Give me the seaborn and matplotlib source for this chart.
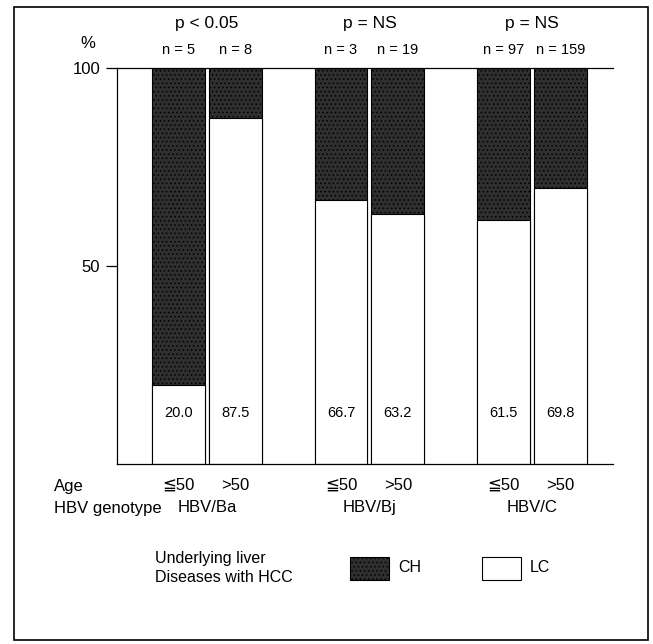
import numpy as np
import pandas as pd
import seaborn as sns
import matplotlib
matplotlib.use("Agg")
import matplotlib.pyplot as plt
from matplotlib.patches import Rectangle

# ---- data ----
genotypes = ["HBV/Ba", "HBV/Bj", "HBV/C"]
ages = ["≦50", ">50"]
lc_values = [20.0, 87.5, 66.7, 63.2, 61.5, 69.8]   # % LC, per genotype x age
ch_values = [80.0, 12.5, 33.3, 36.8, 38.5, 30.2]   # % CH
n_values = [5, 8, 3, 19, 97, 159]
p_labels = ["p < 0.05", "p = NS", "p = NS"]

rows = []
i = 0
for g in genotypes:
    for a in ages:
        rows.append({"genotype": g, "age": a, "LC": lc_values[i],
                     "total": lc_values[i] + ch_values[i], "n": n_values[i]})
        i += 1
df = pd.DataFrame(rows)

sns.set_theme(style="white")
plt.rcParams["font.family"] = ["Liberation Sans", "DejaVu Sans"]
plt.rcParams["text.color"] = "black"
plt.rcParams["ytick.color"] = "black"
plt.rcParams["ytick.labelcolor"] = "black"
plt.rcParams["hatch.color"] = "#8a8a8a"
plt.rcParams["hatch.linewidth"] = 0.6

W, H = 653, 644
fig = plt.figure(figsize=(W / 100, H / 100), dpi=100)
fig.patch.set_facecolor("white")

def fx(px):
    return px / W

def fy(py):
    return 1 - py / H

ax = fig.add_axes([fx(117), fy(464), fx(613) - fx(117), fy(68) - fy(464)])

dark = "#2f2f2f"
sns.barplot(data=df, x="genotype", y="total", hue="age", hue_order=ages,
            order=genotypes, palette=[dark, dark], width=0.70, gap=0.07,
            edgecolor="black", linewidth=0.8, legend=False, ax=ax, errorbar=None)
n_dark = len(ax.patches)
for p in ax.patches:
    p.set_hatch("....")
sns.barplot(data=df, x="genotype", y="LC", hue="age", hue_order=ages,
            order=genotypes, palette=["white", "white"], width=0.70, gap=0.07,
            edgecolor="black", linewidth=0.8, legend=False, ax=ax, errorbar=None)

ax.set_xlim(-0.554, 2.50)
ax.set_ylim(0, 100)
ax.set_xlabel("")
ax.set_ylabel("")
ax.set_xticks([])
ax.set_yticks([50, 100])
ax.set_yticklabels(["50", "100"], fontsize=12, color="black")
ax.tick_params(axis="y", direction="out", length=8, width=0.9, color="black",
               left=True, pad=4)
for s in ["left", "bottom", "top"]:
    ax.spines[s].set_visible(True)
    ax.spines[s].set_color("black")
    ax.spines[s].set_linewidth(0.9)
ax.spines["right"].set_visible(False)

# bar centers in the same order as df rows
lc_patches = ax.patches[n_dark:]
centers = sorted([p.get_x() + p.get_width() / 2 for p in lc_patches])

for c, v, n, a in zip(centers, df["LC"], df["n"], df["age"].tolist()):
    ax.text(c, 13, f"{v:.1f}", ha="center", va="center", fontsize=10.5)
    ax.text(c, 104.6, f"n = {n}", ha="center", va="center", fontsize=10.5,
            clip_on=False)
    ax.text(c, -5.4, a, ha="center", va="center", fontsize=12, clip_on=False)

for gi, (g, p) in enumerate(zip(genotypes, p_labels)):
    ax.text(gi, 111.3, p, ha="center", va="center", fontsize=12.5, clip_on=False)
    ax.text(gi, -10.9, g, ha="center", va="center", fontsize=12, clip_on=False)

fig.text(fx(88), fy(44), "%", ha="center", va="center", fontsize=12)
fig.text(fx(54), fy(486), "Age", ha="left", va="center", fontsize=12)
fig.text(fx(54), fy(508), "HBV genotype", ha="left", va="center", fontsize=12)

# legend
fig.text(fx(155), fy(568), "Underlying liver\nDiseases with HCC", ha="left",
         va="center", fontsize=11.5, linespacing=1.3)
fig.patches.append(Rectangle((fx(350), fy(580)), fx(389) - fx(350), fy(557) - fy(580),
                             transform=fig.transFigure, facecolor=dark,
                             edgecolor="black", hatch="....", linewidth=0.8))
fig.text(fx(398), fy(568), "CH", ha="left", va="center", fontsize=11.5)
fig.patches.append(Rectangle((fx(482), fy(580)), fx(521) - fx(482), fy(557) - fy(580),
                             transform=fig.transFigure, facecolor="white",
                             edgecolor="black", linewidth=0.8))
fig.text(fx(530), fy(568), "LC", ha="left", va="center", fontsize=11.5)

# outer frame
fig.patches.append(Rectangle((fx(14), fy(640)), fx(648) - fx(14), fy(7) - fy(640),
                             transform=fig.transFigure, facecolor="none",
                             edgecolor="black", linewidth=1.2))

fig.savefig("out.png", dpi=100)
